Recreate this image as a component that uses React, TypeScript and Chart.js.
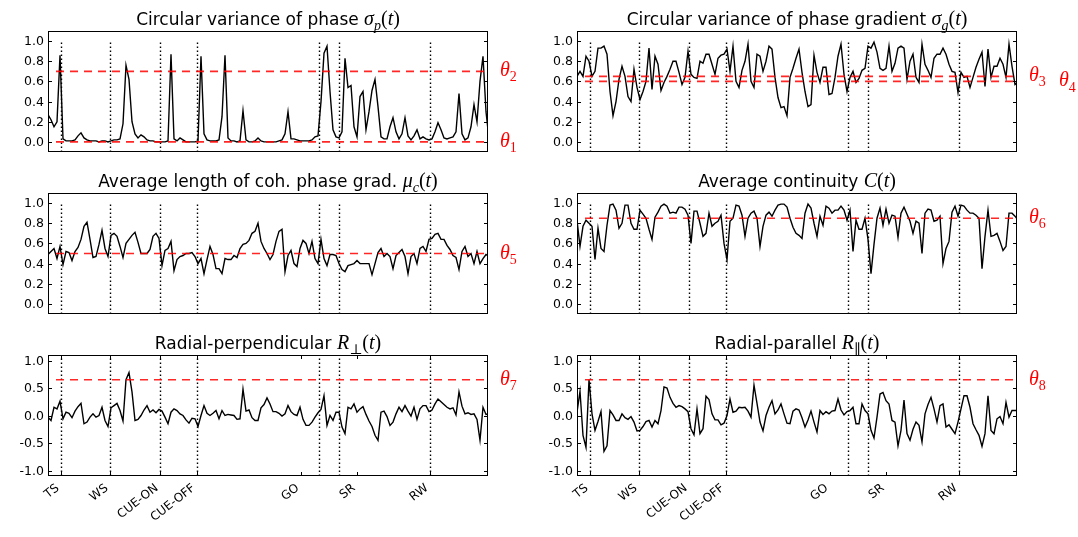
import React, { useEffect, useRef } from 'react';
import { Chart, registerables } from 'chart.js';

Chart.register(...registerables);

// ---------------- data ----------------
const SAMPLE_STEP = 3; // time units between samples
const T_MAX = 440;

const EVENT_LABELS = ['TS', 'WS', 'CUE-ON', 'CUE-OFF', 'GO', 'SR', 'RW'];
const EVENT_TICKS = [13, 62, 112, 149, 253, 309, 382];
const EVENT_LINES = [13, 62, 112, 149, 271, 291, 382];

const Y_TICKS_UNIT = [0, 0.2, 0.4, 0.6, 0.8, 1.0];
const Y_TICKS_SIGNED = [-1.0, -0.5, 0, 0.5, 1.0];

const THETA_P = [0.7, 0.0];
const THETA_G = [0.65, 0.6];
const THETA_MU = [0.5];
const THETA_C = [0.85];
const THETA_PERP = [0.65];
const THETA_PAR = [0.65];

const sigmaP = [
  0.27, 0.22, 0.15, 0.2, 0.86, 0.03, 0.01, 0.01, 0.01, 0.02,
  0.06, 0.09, 0.04, 0.02, 0.01, 0.01, 0.01, 0.0, 0.01, 0.01,
  0.0, 0.01, 0.02, 0.02, 0.03, 0.18, 0.76, 0.62, 0.2, 0.08,
  0.04, 0.07, 0.05, 0.02, 0.01, 0.01, 0.0, 0.0, 0.0, 0.0,
  0.01, 0.87, 0.03, 0.01, 0.04, 0.02, 0.0, 0.0, 0.0, 0.0,
  0.01, 0.85, 0.08, 0.02, 0.01, 0.01, 0.01, 0.02, 0.25, 0.86,
  0.04, 0.01, 0.01, 0.0, 0.01, 0.31, 0.02, 0.0, 0.0, 0.01,
  0.04, 0.01, 0.0, 0.0, 0.0, 0.0, 0.0, 0.01, 0.02, 0.08,
  0.3, 0.03, 0.03, 0.02, 0.01, 0.01, 0.01, 0.01, 0.02, 0.05,
  0.06, 0.4, 0.88, 0.95, 0.5, 0.12, 0.05, 0.04, 0.1, 0.83,
  0.54, 0.56, 0.15, 0.05, 0.45, 0.5, 0.12, 0.3, 0.51, 0.62,
  0.35, 0.05, 0.03, 0.03, 0.15, 0.24, 0.1, 0.03, 0.08, 0.24,
  0.06, 0.02, 0.06, 0.12, 0.03, 0.05, 0.03, 0.02, 0.03, 0.1,
  0.19, 0.12, 0.04, 0.03, 0.04, 0.05, 0.1, 0.48, 0.08, 0.02,
  0.04, 0.15, 0.37, 0.2, 0.6, 0.85, 0.3, 0.03,
];

const sigmaG = [
  0.65, 0.7, 0.65, 0.85, 0.8, 0.65, 0.7, 0.93, 0.93, 0.95,
  0.87, 0.5, 0.26, 0.4, 0.62, 0.75, 0.65, 0.45, 0.4, 0.72,
  0.54, 0.42, 0.5, 0.6, 0.93, 0.52, 0.85, 0.77, 0.51, 0.59,
  0.65, 0.72, 0.8, 0.8, 0.69, 0.57, 0.64, 0.9, 0.67, 0.64,
  0.63, 0.8, 0.78, 0.87, 0.87, 0.77, 0.67, 0.83, 0.86, 0.87,
  0.92, 0.7, 0.95, 0.6, 0.54, 0.71, 0.8, 0.97, 0.6, 0.54,
  0.87, 0.85, 0.7, 0.8, 0.95, 0.92, 0.64, 0.44, 0.34, 0.35,
  0.26, 0.64, 0.73, 0.83, 0.92, 0.69, 0.5, 0.35, 0.37, 0.86,
  0.69, 0.59, 0.74, 0.74, 0.47, 0.48, 0.64, 0.85, 0.97, 0.67,
  0.5, 0.64, 0.7, 0.59, 0.63, 0.71, 0.73, 0.95, 0.93, 0.99,
  0.89, 0.73, 0.71, 0.73, 0.95, 0.7, 0.78, 0.93, 0.95, 0.93,
  0.62, 0.8, 0.87, 0.64, 0.59, 0.97, 0.77, 0.71, 0.64, 0.83,
  0.87, 0.87, 0.93, 0.87, 0.77, 0.7, 0.69, 0.49, 0.69, 0.64,
  0.65, 0.54, 0.64, 0.74, 0.82, 0.89, 0.55, 0.92, 0.64, 0.75,
  0.75, 0.83, 0.77, 0.64, 0.97, 0.75, 0.57, 0.59,
];

const muC = [
  0.49, 0.52, 0.55, 0.45, 0.57, 0.39, 0.52, 0.51, 0.43, 0.52,
  0.56, 0.64, 0.77, 0.81, 0.64, 0.46, 0.47, 0.59, 0.73, 0.55,
  0.47, 0.68, 0.7, 0.67, 0.57, 0.46, 0.6, 0.64, 0.68, 0.71,
  0.61, 0.5, 0.5, 0.5, 0.54, 0.67, 0.7, 0.65, 0.38, 0.53,
  0.55, 0.62, 0.33, 0.44, 0.47, 0.48, 0.5, 0.5, 0.51, 0.47,
  0.4, 0.45, 0.3, 0.44, 0.57, 0.49, 0.35, 0.35, 0.3, 0.45,
  0.44, 0.44, 0.48, 0.46, 0.55, 0.59, 0.6, 0.63, 0.7, 0.72,
  0.8, 0.62, 0.55, 0.5, 0.44, 0.49, 0.62, 0.72, 0.74, 0.32,
  0.48, 0.53, 0.4, 0.37, 0.55, 0.63, 0.6, 0.5, 0.62, 0.45,
  0.4, 0.64, 0.45, 0.38, 0.49, 0.49, 0.48, 0.4, 0.34, 0.32,
  0.38, 0.39, 0.4, 0.43, 0.4, 0.4, 0.4, 0.4, 0.29, 0.4,
  0.51, 0.55, 0.47, 0.5, 0.47, 0.35, 0.48, 0.51, 0.54, 0.47,
  0.3, 0.47, 0.5, 0.4, 0.55, 0.57, 0.52, 0.64, 0.65, 0.69,
  0.7, 0.64, 0.64, 0.58, 0.54, 0.48, 0.46, 0.34, 0.52, 0.57,
  0.47, 0.5, 0.4, 0.52, 0.4, 0.45, 0.49, 0.47,
];

const contC = [
  0.83, 0.57, 0.77, 0.83, 0.8, 0.77, 0.44, 0.75, 0.55, 0.52,
  0.78, 0.98, 0.99, 0.93, 0.75, 0.8, 0.98, 0.98, 0.8, 0.74,
  0.74, 0.93, 0.89, 0.85, 0.74, 0.64, 0.86, 0.91, 0.97, 0.99,
  0.97, 0.9, 0.91, 0.9, 0.96, 0.96, 0.94, 0.88, 0.6, 0.92,
  0.92, 0.8, 0.67, 0.7, 0.9, 0.77, 0.8, 0.82, 0.88, 0.6,
  0.44, 0.82, 0.85, 0.98, 0.97, 0.88, 0.67, 0.85, 0.9, 0.92,
  0.85, 0.57, 0.77, 0.88, 0.91, 0.87, 0.93, 0.98, 0.99, 0.99,
  0.96, 0.85, 0.76, 0.7, 0.68, 0.65, 0.9, 0.99, 0.95, 0.8,
  0.67, 0.87, 0.78, 0.97, 0.95, 0.9, 0.93, 0.93, 0.97, 0.93,
  0.83, 0.93, 0.52, 0.83, 0.74, 0.74, 0.85, 0.64, 0.3, 0.59,
  0.85, 0.95, 0.78, 0.94, 0.8, 0.88, 0.87, 0.66, 0.9, 0.96,
  0.89, 0.82, 0.7, 0.82, 0.8, 0.5, 0.9, 0.94, 0.93, 0.82,
  0.83, 0.87, 0.4, 0.55, 0.62, 0.91, 0.97, 0.87, 0.98, 0.97,
  0.93, 0.9, 0.9, 0.88, 0.85, 0.35, 0.67, 0.93, 0.67, 0.68,
  0.7, 0.62, 0.53, 0.57, 0.9, 0.9, 0.87, 0.83,
];

const rPerp = [
  -0.03, -0.09, 0.15, 0.12, 0.26, -0.06, 0.06, 0.04, -0.04, 0.08,
  0.16, 0.22, -0.15, -0.12, -0.03, 0.03, -0.03, 0.0, 0.15, -0.09,
  -0.2, 0.14, 0.18, 0.22, 0.09, -0.1, 0.65, 0.78, 0.43, -0.09,
  -0.07, 0.0, 0.1, 0.18, 0.06, 0.1, 0.05, 0.11, 0.08, -0.03,
  -0.15, 0.06, 0.12, 0.09, 0.03, 0.0, -0.08, -0.14, -0.05, -0.06,
  -0.2, 0.0, 0.18, 0.04, 0.0, 0.04, 0.09, -0.06, 0.09, 0.0,
  0.02, 0.01, 0.0, -0.07, -0.06, 0.48, 0.08, 0.1, -0.04, -0.09,
  -0.09, 0.14, 0.2, 0.32, 0.21, 0.07, 0.07, 0.04, -0.01, 0.03,
  0.18, 0.07, 0.02, 0.0, 0.15, -0.07, -0.18, -0.18, -0.12, -0.03,
  0.05, 0.11, 0.36, -0.18, 0.0, -0.09, 0.06, 0.06, -0.21, -0.33,
  0.15, 0.12, 0.21, 0.06, 0.12, 0.16, 0.02, -0.1, -0.2, -0.36,
  -0.45, 0.06, 0.08, -0.02, -0.18, -0.12, 0.03, 0.15, 0.07, 0.18,
  0.08, -0.01, 0.15, -0.07, 0.12, 0.18, 0.18, 0.07, 0.1, 0.21,
  0.3, 0.25, 0.2, 0.15, 0.12, 0.14, 0.01, 0.43, 0.17, 0.03,
  0.05, 0.02, 0.03, -0.07, -0.45, 0.15, 0.02, 0.03,
];

const rPar = [
  0.06, 0.44, -0.36, -0.58, 0.65, 0.03, -0.27, -0.11, 0.07, -0.65,
  -0.55, 0.09, 0.01, -0.09, -0.09, 0.03, -0.04, -0.07, -0.02, -0.12,
  -0.28, -0.27, -0.2, -0.11, -0.09, -0.21, -0.09, -0.15, 0.09, 0.52,
  0.5, 0.33, 0.22, 0.15, 0.18, 0.16, 0.12, 0.07, -0.24, -0.35,
  0.12, -0.33, -0.24, 0.35, 0.29, 0.03, -0.08, -0.08, -0.17, -0.14,
  0.0, 0.3, 0.06, 0.08, 0.15, 0.14, 0.15, 0.08, -0.03, 0.55,
  0.22, -0.12, -0.28, 0.0, 0.15, 0.27, 0.03, 0.1, 0.21, 0.03,
  -0.14, -0.15, 0.08, 0.12, 0.1, -0.04, -0.21, -0.08, 0.08, -0.12,
  -0.3, 0.09, 0.02, 0.07, 0.03, 0.08, 0.09, 0.3, 0.1, 0.01,
  0.07, 0.09, 0.15, -0.15, -0.15, 0.21, 0.09, 0.03, -0.27, -0.41,
  -0.03, 0.39, 0.42, 0.27, 0.21, -0.09, -0.12, -0.55, -0.27, 0.28,
  -0.33, -0.45, -0.25, -0.12, -0.18, -0.48, 0.03, 0.2, 0.33, 0.12,
  -0.12, 0.18, 0.21, -0.21, -0.17, -0.25, -0.33, -0.12, 0.12, 0.36,
  0.36, 0.15, -0.15, -0.26, -0.36, -0.56, -0.33, 0.36, -0.27, -0.33,
  -0.06, -0.02, -0.15, 0.24, -0.03, 0.09, 0.09, 0.09,
];

// ---------------- layout / styles ----------------
const W = 1078;
const H = 537;
const COLS = [
  { left: 48, right: 488 },
  { left: 577, right: 1017 },
];
const ROWS = [
  { top: 31, bottom: 152 },
  { top: 193, bottom: 314 },
  { top: 355, bottom: 476 },
];

const SANS = '"DejaVu Sans", sans-serif';
const SERIF = '"Liberation Serif", "DejaVu Serif", serif';

type SegKind = 'text' | 'mi' | 'mu' | 'sub' | 'subu';
type Seg = { t: string; k: SegKind };

function segFont(k: SegKind, size: number) {
  switch (k) {
    case 'text':
      return `${size}px ${SANS}`;
    case 'mi':
      return `italic ${Math.round(size * 1.15)}px ${SERIF}`;
    case 'mu':
      return `${Math.round(size * 1.15)}px ${SERIF}`;
    case 'sub':
      return `italic ${Math.round(size * 0.82)}px ${SERIF}`;
    default:
      return `${Math.round(size * 0.82)}px ${SERIF}`;
  }
}

function mathTitle(text: string, sym: string, sub: string, subUpright = false): Seg[] {
  const segs: Seg[] = [{ t: text, k: 'text' }, { t: sym, k: 'mi' }];
  if (sub) segs.push({ t: sub, k: subUpright ? 'subu' : 'sub' });
  segs.push({ t: '(', k: 'mu' }, { t: 't', k: 'mi' }, { t: ')', k: 'mu' });
  return segs;
}

type Theta = { value: number; label: string; dx: number };
type PanelCfg = {
  col: number;
  row: number;
  title: Seg[];
  values: number[];
  yMin: number;
  yMax: number;
  yTicks: number[];
  dotTop: number;
  thetas: Theta[];
  xLabels: boolean;
};

const PANELS: PanelCfg[] = [
  {
    col: 0, row: 0,
    title: mathTitle('Circular variance of phase ', 'σ', 'p'),
    values: sigmaP, yMin: -0.1, yMax: 1.1, yTicks: Y_TICKS_UNIT, dotTop: 1.0,
    thetas: [
      { value: THETA_P[0], label: '2', dx: 12 },
      { value: THETA_P[1], label: '1', dx: 12 },
    ],
    xLabels: false,
  },
  {
    col: 1, row: 0,
    title: mathTitle('Circular variance of phase gradient ', 'σ', 'g'),
    values: sigmaG, yMin: -0.1, yMax: 1.1, yTicks: Y_TICKS_UNIT, dotTop: 1.0,
    thetas: [
      { value: THETA_G[0], label: '3', dx: 12 },
      { value: THETA_G[1], label: '4', dx: 42 },
    ],
    xLabels: false,
  },
  {
    col: 0, row: 1,
    title: mathTitle('Average length of coh. phase grad. ', 'μ', 'c'),
    values: muC, yMin: -0.1, yMax: 1.1, yTicks: Y_TICKS_UNIT, dotTop: 1.0,
    thetas: [{ value: THETA_MU[0], label: '5', dx: 12 }],
    xLabels: false,
  },
  {
    col: 1, row: 1,
    title: mathTitle('Average continuity ', 'C', ''),
    values: contC, yMin: -0.1, yMax: 1.1, yTicks: Y_TICKS_UNIT, dotTop: 1.0,
    thetas: [{ value: THETA_C[0], label: '6', dx: 12 }],
    xLabels: false,
  },
  {
    col: 0, row: 2,
    title: mathTitle('Radial-perpendicular ', 'R', '⊥', true),
    values: rPerp, yMin: -1.1, yMax: 1.1, yTicks: Y_TICKS_SIGNED, dotTop: 1.1,
    thetas: [{ value: THETA_PERP[0], label: '7', dx: 12 }],
    xLabels: true,
  },
  {
    col: 1, row: 2,
    title: mathTitle('Radial-parallel ', 'R', '∥', true),
    values: rPar, yMin: -1.1, yMax: 1.1, yTicks: Y_TICKS_SIGNED, dotTop: 1.1,
    thetas: [{ value: THETA_PAR[0], label: '8', dx: 12 }],
    xLabels: true,
  },
];

function drawSegs(
  ctx: CanvasRenderingContext2D,
  segs: Seg[],
  x: number,
  y: number,
  size: number,
  align: 'center' | 'left',
  color: string
) {
  const widths = segs.map((s) => {
    ctx.font = segFont(s.k, size);
    return ctx.measureText(s.t).width;
  });
  const total = widths.reduce((a, b) => a + b, 0);
  let cx = align === 'center' ? x - total / 2 : x;
  ctx.fillStyle = color;
  ctx.textBaseline = 'alphabetic';
  ctx.textAlign = 'left';
  segs.forEach((s, i) => {
    ctx.font = segFont(s.k, size);
    const dy = s.k === 'sub' || s.k === 'subu' ? size * 0.3 : 0;
    ctx.fillText(s.t, cx, y + dy);
    cx += widths[i];
  });
}

function fmtTick(v: number) {
  const s = Math.abs(v).toFixed(1);
  return v < 0 ? '-' + s : s;
}

function makeDeco(p: PanelCfg) {
  return {
    id: 'deco' + p.col + p.row,
    afterDatasetsDraw(chart: any) {
      const ctx: CanvasRenderingContext2D = chart.ctx;
      const xs = chart.scales.x;
      const ys = chart.scales.y;
      const { left, right, top, bottom } = chart.chartArea;
      ctx.save();

      // event dotted lines
      ctx.save();
      ctx.beginPath();
      ctx.rect(left, top, right - left, bottom - top);
      ctx.clip();
      ctx.strokeStyle = '#000';
      ctx.lineWidth = 1.4;
      ctx.setLineDash([1.4, 2.6]);
      EVENT_LINES.forEach((ev) => {
        const x = Math.round(xs.getPixelForValue(ev)) + 0.5;
        ctx.beginPath();
        ctx.moveTo(x, bottom);
        ctx.lineTo(x, ys.getPixelForValue(p.dotTop));
        ctx.stroke();
      });
      // thresholds
      ctx.strokeStyle = 'rgba(255,0,0,0.85)';
      ctx.lineWidth = 1.6;
      ctx.setLineDash([8, 6]);
      p.thetas.forEach((th) => {
        const y = ys.getPixelForValue(th.value);
        ctx.beginPath();
        ctx.moveTo(xs.getPixelForValue(8), y);
        ctx.lineTo(right, y);
        ctx.stroke();
      });
      ctx.restore();

      // frame
      ctx.setLineDash([]);
      ctx.strokeStyle = '#000';
      ctx.lineWidth = 1;
      ctx.strokeRect(left + 0.5, top + 0.5, right - left - 1, bottom - top - 1);

      // y ticks
      ctx.font = `12.5px ${SANS}`;
      ctx.fillStyle = '#000';
      ctx.textAlign = 'right';
      ctx.textBaseline = 'middle';
      p.yTicks.forEach((t) => {
        const y = Math.round(ys.getPixelForValue(t)) + 0.5;
        ctx.beginPath();
        ctx.moveTo(left, y);
        ctx.lineTo(left + 4, y);
        ctx.moveTo(right, y);
        ctx.lineTo(right - 4, y);
        ctx.stroke();
        ctx.fillText(fmtTick(t), left - 4, y + 0.5);
      });

      // x ticks and labels
      if (p.xLabels) {
        const size = 12;
        const a = (38 * Math.PI) / 180;
        const asc = 0.76 * size;
        const desc = 0.24 * size;
        ctx.font = `${size}px ${SANS}`;
        ctx.textAlign = 'left';
        ctx.textBaseline = 'alphabetic';
        EVENT_TICKS.forEach((ev, i) => {
          const x = Math.round(xs.getPixelForValue(ev)) + 0.5;
          ctx.beginPath();
          ctx.moveTo(x, bottom);
          ctx.lineTo(x, bottom - 4);
          ctx.moveTo(x, top);
          ctx.lineTo(x, top + 4);
          ctx.stroke();
          const label = EVENT_LABELS[i];
          const L = ctx.measureText(label).width;
          const ox = x - (L * Math.cos(a) + desc * Math.sin(a));
          const oy = bottom + 6 + L * Math.sin(a) + asc * Math.cos(a);
          ctx.save();
          ctx.translate(ox, oy);
          ctx.rotate(-a);
          ctx.fillText(label, 0, 0);
          ctx.restore();
        });
      }

      // title
      drawSegs(ctx, p.title, (left + right) / 2, top - 6, 17, 'center', '#000');

      // theta labels
      p.thetas.forEach((th) => {
        const y = ys.getPixelForValue(th.value);
        drawSegs(
          ctx,
          [
            { t: 'θ', k: 'mi' },
            { t: th.label, k: 'subu' },
          ],
          right + th.dx,
          y + 5,
          17,
          'left',
          'rgb(255,0,0)'
        );
      });

      ctx.restore();
    },
  };
}

function Panel({ panel }: { panel: PanelCfg }) {
  const ref = useRef<HTMLCanvasElement>(null);
  useEffect(() => {
    const canvas = ref.current;
    if (!canvas) return;
    const col = COLS[panel.col];
    const row = ROWS[panel.row];
    const chart = new Chart(canvas, {
      type: 'line',
      data: {
        datasets: [
          {
            data: panel.values.map((v, i) => ({ x: i * SAMPLE_STEP, y: v })),
            borderColor: '#000',
            borderWidth: 1.4,
            pointRadius: 0,
            tension: 0,
            fill: false,
          },
        ],
      },
      options: {
        animation: false,
        responsive: false,
        devicePixelRatio: 1,
        events: [],
        layout: {
          padding: {
            left: col.left,
            right: W - col.right,
            top: row.top,
            bottom: H - row.bottom,
          },
        },
        scales: {
          x: { type: 'linear', min: 0, max: T_MAX, display: false },
          y: { type: 'linear', min: panel.yMin, max: panel.yMax, display: false },
        },
        plugins: {
          legend: { display: false },
          tooltip: { enabled: false },
          title: { display: false },
        },
      },
      plugins: [makeDeco(panel)],
    } as any);
    return () => chart.destroy();
  }, [panel]);
  return (
    <canvas
      ref={ref}
      width={W}
      height={H}
      style={{ position: 'absolute', left: 0, top: 0, width: W, height: H }}
    />
  );
}

export default function App() {
  return (
    <div
      style={{
        position: 'fixed',
        left: 0,
        top: 0,
        width: W,
        height: H,
        background: '#fff',
        overflow: 'hidden',
      }}
    >
      {PANELS.map((p, i) => (
        <Panel key={i} panel={p} />
      ))}
    </div>
  );
}
